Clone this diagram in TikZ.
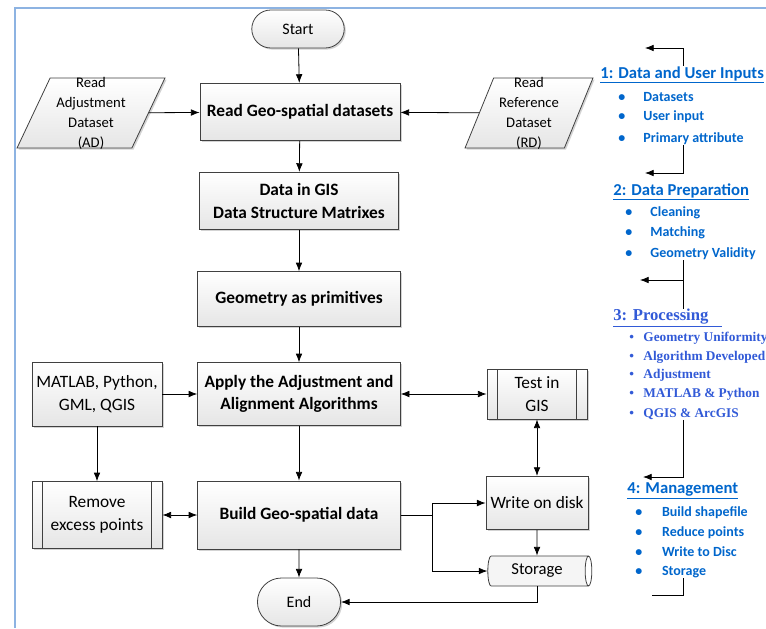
\documentclass[tikz,border=0pt]{standalone}
\usepackage{fontspec}
\setmainfont{Carlito}
\newfontfamily\timesfont{Liberation Serif}
\usetikzlibrary{arrows.meta,shapes.geometric,shapes.misc,shadows}

\definecolor{frameblue}{RGB}{141,179,226}
\definecolor{headblue}{RGB}{0,102,204}
\definecolor{procblue}{RGB}{50,90,215}

\newcommand{\itm}[2][18.75pt]{\makebox[#1][l]{\textbullet}#2}

\begin{document}
\begin{tikzpicture}[x=0.75pt,y=-0.75pt,>={Latex[length=6.5pt,width=5pt]},semithick]
  \tikzstyle{box}=[draw=black!75,rectangle,top color=white,bottom color=black!10,
                   drop shadow={shadow xshift=1.2pt,shadow yshift=-1.2pt,opacity=0.35},
                   align=center,font=\fontsize{13}{17}\selectfont]
  \tikzstyle{bbox}=[box,font=\fontsize{13}{17}\selectfont\bfseries]
  \tikzstyle{term}=[box,rounded rectangle,font=\fontsize{12}{15}\selectfont]
  \tikzstyle{io}=[box,trapezium,trapezium left angle=68,trapezium right angle=112,
                  trapezium stretches=true,minimum height=52.5pt,inner sep=3pt]
  \tikzstyle{subproc}=[box,path picture={
      \draw[black!75] ([xshift=8pt]path picture bounding box.north west) -- ([xshift=8pt]path picture bounding box.south west)
                      ([xshift=-8pt]path picture bounding box.north east) -- ([xshift=-8pt]path picture bounding box.south east);}]
  \tikzstyle{store}=[draw=black!75,cylinder,shape aspect=0.35,cylinder uses custom fill,
                     cylinder body fill=black!4,cylinder end fill=white,inner sep=2pt,
                     font=\fontsize{12.5}{15}\selectfont]
  \tikzstyle{head}=[anchor=west,inner sep=0pt,text=headblue,font=\fontsize{12.5}{15}\selectfont\bfseries]
  \tikzstyle{item}=[anchor=west,inner sep=0pt,text=headblue,font=\fontsize{10.5}{13}\selectfont\bfseries]
  \tikzstyle{pitem}=[anchor=west,inner sep=0pt,text=procblue,font=\timesfont\fontsize{10}{12}\selectfont\bfseries]

  \useasboundingbox (0,0) rectangle (766,628);
  \draw[frameblue,line width=1.5pt] (15,628) -- (15,8) -- (766,8);

  \node[term,minimum width=76pt,minimum height=28.5pt] (start) at (298,29) {Start};
  \node[bbox,minimum width=150pt,minimum height=43pt] (read) at (300,112) {Read Geo-spatial datasets};
  \node[io,minimum width=111pt,
        label={[align=center,font=\fontsize{11}{15}\selectfont]center:Read\\Adjustment\\Dataset\\(AD)}] (ad) at (91,113) {};
  \node[io,minimum width=96pt,
        label={[align=center,font=\fontsize{11}{15}\selectfont]center:Read\\Reference\\Dataset\\(RD)}] (rd) at (529,113) {};
  \node[bbox,minimum width=149pt,minimum height=43pt] (gis) at (299,201) {Data in GIS\\Data Structure Matrixes};
  \node[bbox,minimum width=152pt,minimum height=41pt] (geom) at (299,299) {Geometry as primitives};
  \node[bbox,minimum width=152pt,minimum height=47pt] (apply) at (299,394) {Apply the Adjustment and\\Alignment Algorithms};
  \node[box,minimum width=97.5pt,minimum height=48pt] (tools) at (97,394) {MATLAB, Python,\\GML, QGIS};
  \node[subproc,minimum width=75pt,minimum height=37.5pt] (test) at (537,394) {Test in\\GIS};
  \node[bbox,minimum width=152pt,minimum height=51pt] (build) at (299,515) {Build Geo-spatial data};
  \node[subproc,minimum width=97.5pt,minimum height=50pt] (remove) at (97,515) {Remove\\excess points};
  \node[box,minimum width=76pt,minimum height=40pt] (disk) at (537,503) {Write on disk};
  \node[store,minimum width=22.5pt,minimum height=78pt] (storage) at (537,571) {Storage};
  \node[term,minimum width=69pt,minimum height=36pt] (end) at (299,602) {End};

  \path[->] (start) edge (read)
            (read) edge (gis)
            (gis) edge (geom)
            (geom) edge (apply)
            (apply) edge (build)
            (build) edge (end)
            (ad) edge (read)
            (rd) edge (read)
            (tools) edge (apply)
            (tools) edge (remove);
  \path[<->] (remove) edge (build)
             (apply) edge (test)
             (test) edge (disk);
  \coordinate (split) at (432,515);
  \draw (build) -- (split);
  \draw[->] (split) |- (disk);
  \draw[->] (split) |- (storage);
  \draw[->] (disk) -- (storage);
  \draw[->] (storage) |- (end);

  % stages on the right
  \node[head] (h1) at (600,75) {\underline{1: Data and User Inputs}};
  \node[item] (i11) at (618,97) {\itm{Datasets}};
  \node[item] (i12) at (618,117) {\itm{User input}};
  \node[item] (i13) at (618,139) {\itm{Primary attribute}};

  \node[head] (h2) at (613,192) {\underline{2: Data Preparation}};
  \node[item] (i21) at (625,213) {\itm{Cleaning}};
  \node[item] (i22) at (625,233) {\itm{Matching}};
  \node[item] (i23) at (625,254) {\itm{Geometry Validity}};

  \node[head,text=procblue,font=\timesfont\fontsize{12.5}{15}\selectfont\bfseries] (h3) at (613,318) {\underline{3: Processing\hspace{10pt}}};
  \node[pitem] (i31) at (629,338) {\itm[10.5pt]{Geometry Uniformity}};
  \node[pitem] (i32) at (629,357) {\itm[10.5pt]{Algorithm Developed}};
  \node[pitem] (i33) at (629,375) {\itm[10.5pt]{Adjustment}};
  \node[pitem] (i34) at (629,394) {\itm[10.5pt]{MATLAB \& Python}};
  \node[pitem] (i35) at (629,414) {\itm[10.5pt]{QGIS \& ArcGIS}};

  \node[head] (h4) at (627,491) {\underline{4: Management}};
  \node[item] (i41) at (635,513) {\itm[20pt]{Build shapefile}};
  \node[item] (i42) at (635,533) {\itm[20pt]{Reduce points}};
  \node[item] (i43) at (635,552) {\itm[20pt]{Write to Disc}};
  \node[item] (i44) at (635,572) {\itm[20pt]{Storage}};

  \coordinate (k1) at (683,48);  \coordinate (e1) at (645,48);
  \coordinate (k2) at (683,173); \coordinate (e2) at (645,173);
  \coordinate (k3) at (683,280); \coordinate (e3) at (640,280);
  \coordinate (k4) at (683,477); \coordinate (e4) at (643,477);
  \coordinate (k5) at (683,595); \coordinate (e5) at (652,595);
  \draw[->] (h1.north -| k1) -- (k1) -- (e1);
  \draw[->] (i13.south -| k2) -- (k2) -- (e2);
  \draw (i23.south -| k3) -- (h3.north -| k3);
  \draw[->] (k3) -- (e3);
  \draw[->] (i35.south -| k4) -- (k4) -- (e4);
  \draw (i44.south -| k5) -- (k5) -- (e5);
\end{tikzpicture}
\end{document}
